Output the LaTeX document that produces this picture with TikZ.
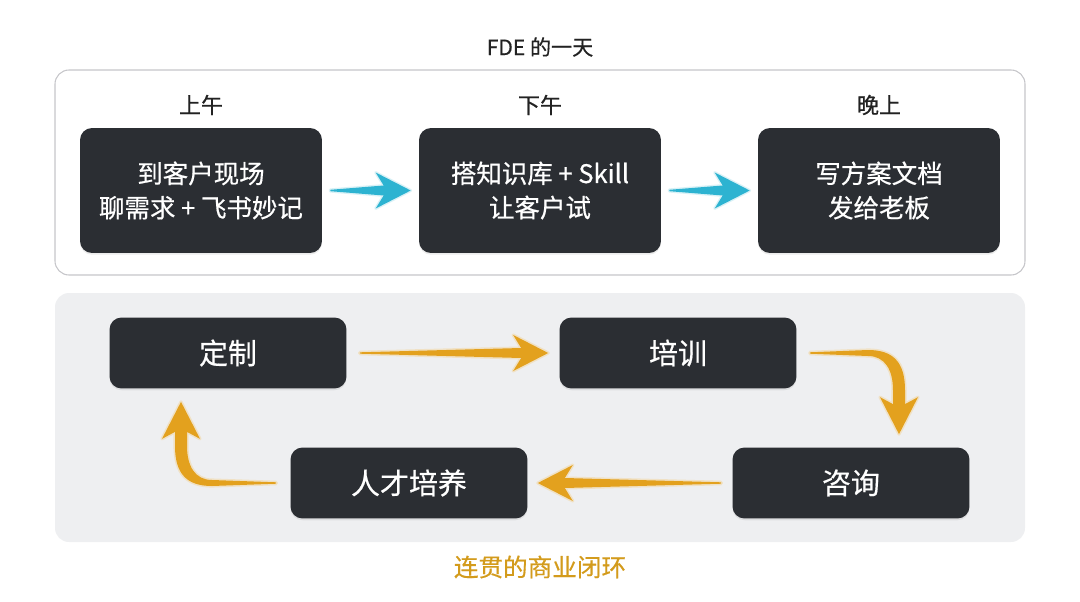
\documentclass[tikz,border=0pt]{standalone}
\usepackage{fontspec}
\setmainfont{Noto Sans CJK SC}[FakeBold=0.5]
\usetikzlibrary{calc,shadows}

\definecolor{boxdark}{HTML}{2B2E33}
\definecolor{arrowcyan}{HTML}{2DB3D1}
\definecolor{arrowgold}{HTML}{E3A11E}
\definecolor{panelgray}{HTML}{EEEFF1}
\definecolor{framegray}{HTML}{C6C6CA}
\definecolor{captiongold}{HTML}{D39B1C}
\definecolor{textdark}{HTML}{222222}

% straight tapered arrow: start, tip, direction (1 right, -1 left), style
\newcommand{\flatarrow}[4]{%
  \fill[#4] ($(#1)+(0,-0.7)$) -- ($(#2)+({-27*#3},-5)$) -- ($(#2)+({-35*#3},-18)$) -- (#2)
    -- ($(#2)+({-35*#3},18)$) -- ($(#2)+({-27*#3},5)$) -- ($(#1)+(0,0.7)$) -- cycle;}

% bent tapered arrow: start, tip, turn (1 right-down, -1 left-up), style
\newcommand{\bentarrow}[4]{%
  \coordinate (bend) at (#1 -| #2);
  \fill[#4] ($(#1)+(0,{-0.7*#3})$) -- ($(bend)+({-31*#3},{-3*#3})$)
    .. controls ($(bend)+({-6*#3},{-3*#3})$) and ($(bend)+({6*#3},{9*#3})$) .. ($(bend)+({6*#3},{37*#3})$)
    -- ($(#2)+({6*#3},{-30*#3})$) -- ($(#2)+({19*#3},{-37*#3})$) -- (#2)
    -- ($(#2)+({-19*#3},{-37*#3})$) -- ($(#2)+({-6*#3},{-30*#3})$)
    -- ($(bend)+({-6*#3},{37*#3})$) .. controls ($(bend)+({-6*#3},{17*#3})$) and ($(bend)+({-14*#3},{3*#3})$) .. ($(bend)+({-31*#3},{3*#3})$)
    -- ($(#1)+(0,{0.7*#3})$) -- cycle;}

\begin{document}
\begin{tikzpicture}[x=0.02cm, y=-0.02cm]
    \tikzstyle{daybox}=[rectangle, rounded corners=0.24cm, fill=boxdark, text=white, inner sep=0pt,
        minimum width=4.84cm, minimum height=2.5cm, align=center, font=\fontsize{14.5}{19.5}\selectfont,
        drop shadow={opacity=0.15, shadow xshift=0pt, shadow yshift=-1pt}]
    \tikzstyle{loopbox}=[daybox, minimum width=4.74cm, minimum height=1.42cm, font=\fontsize{16.5}{20}\selectfont]
    \tikzstyle{head}=[text=textdark, inner sep=0pt, font=\fontsize{12.5}{15}\selectfont]
    \tikzstyle{cyanarrow}=[arrowcyan, preaction={draw=arrowcyan!35, line width=1.6pt, opacity=0.5, line join=round}]
    \tikzstyle{goldarrow}=[arrowgold, preaction={draw=arrowgold!45, line width=1.8pt, opacity=0.5, line join=round}]

    \useasboundingbox (0,0) rectangle (1080,602);

    % panels
    \draw[framegray, fill=white, rounded corners=0.28cm, line width=0.6pt] (55,70) rectangle (1025,275);
    \fill[panelgray, rounded corners=0.28cm] (55,293) rectangle (1025,542);

    \node[head, font=\fontsize{12}{14}\selectfont] (title) at (540,47) {FDE 的一天};

    % the day
    \node[daybox] (am) at (201,190.5) {到客户现场\\聊需求 + 飞书妙记};
    \node[daybox] (pm) at (540,190.5) {搭知识库 + Skill\\让客户试};
    \node[daybox] (ev) at (879,190.5) {写方案文档\\发给老板};

    \node[head] (amh) at (201,105) {上午};
    \node[head] (pmh) at (540,105) {下午};
    \node[head] (evh) at (879,105) {晚上};

    \coordinate (c1s) at ($(am.east)+(8,0)$);
    \coordinate (c1t) at ($(pm.west)+(-8,0)$);
    \coordinate (c2s) at ($(pm.east)+(8,0)$);
    \coordinate (c2t) at ($(ev.west)+(-8,0)$);
    \flatarrow{c1s}{c1t}{1}{cyanarrow}
    \flatarrow{c2s}{c2t}{1}{cyanarrow}

    % the loop
    \node[loopbox] (dz) at (228,353) {定制};
    \node[loopbox] (px) at (678,353) {培训};
    \node[loopbox] (zx) at (851,483) {咨询};
    \node[loopbox] (rc) at (409,483) {人才培养};

    \coordinate (g1s) at ($(dz.east)+(13,0)$);
    \coordinate (g1t) at ($(px.west)+(-11,0)$);
    \coordinate (g2s) at ($(px.east)+(13,0)$);
    \coordinate (g2t) at ($(zx.north)+(48,-13)$);
    \coordinate (g3s) at ($(zx.west)+(-11,0)$);
    \coordinate (g3t) at ($(rc.east)+(10,0)$);
    \coordinate (g4s) at ($(rc.west)+(-14,0)$);
    \coordinate (g4t) at ($(dz.south)+(-47,13)$);
    \flatarrow{g1s}{g1t}{1}{goldarrow}
    \bentarrow{g2s}{g2t}{1}{goldarrow}
    \flatarrow{g3s}{g3t}{-1}{goldarrow}
    \bentarrow{g4s}{g4t}{-1}{goldarrow}

    \node[text=captiongold, font=\fontsize{14}{16}\selectfont] (cap) at (540,567) {连贯的商业闭环};
\end{tikzpicture}
\end{document}
